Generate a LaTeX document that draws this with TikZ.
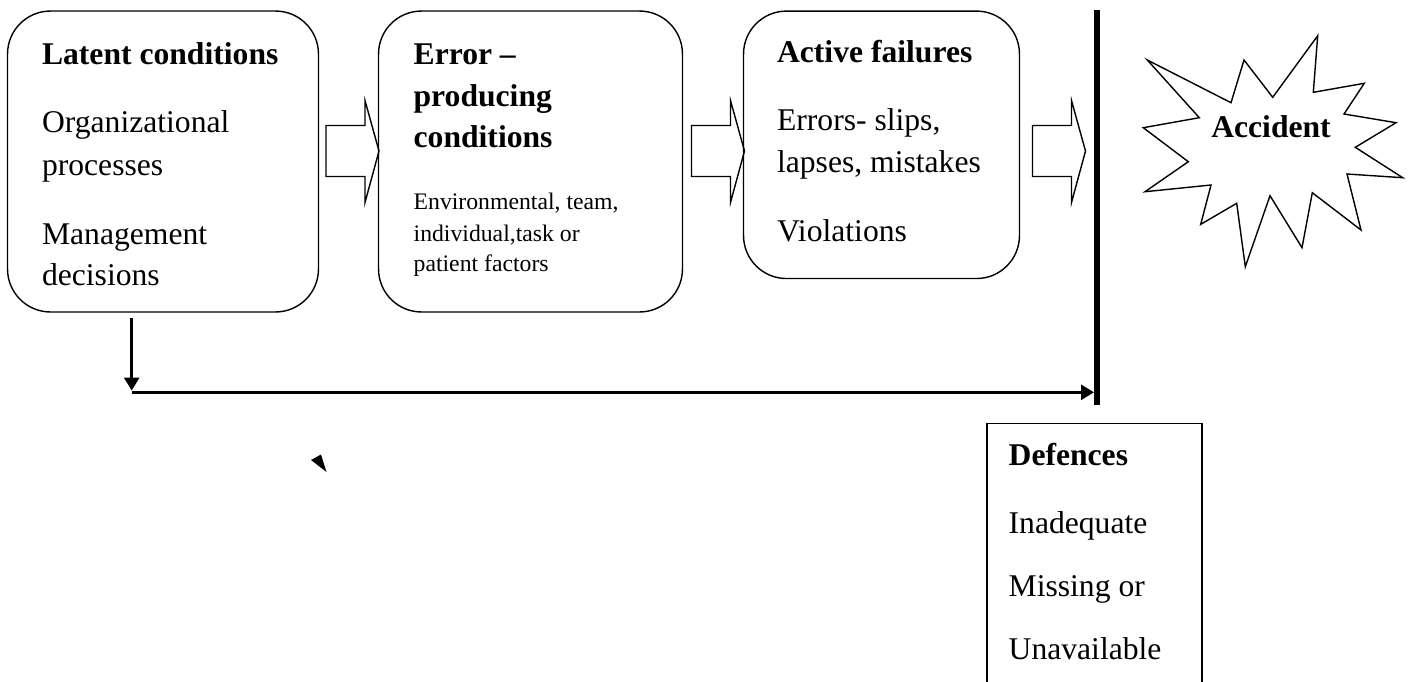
\documentclass[tikz,border=0pt]{standalone}
\usepackage{fontspec}
\setmainfont{Liberation Serif}
\usetikzlibrary{arrows.meta,positioning,calc}
\definecolor{ink}{RGB}{0,0,0}
\tikzset{
  stage/.style={draw=ink,line width=0.8pt,rounded corners=0.86cm,inner sep=0pt},
  head/.style={anchor=base west,inner sep=0pt,font=\fontsize{18}{22}\selectfont\bfseries},
  item/.style={anchor=base west,inner sep=0pt,font=\fontsize{18}{22}\selectfont},
  note/.style={anchor=base west,inner sep=0pt,font=\fontsize{13.5}{16}\selectfont},
  blockarr/.style={draw=ink,line width=0.8pt,line join=miter},
  arr/.style={-{Triangle[length=0.26cm,width=0.3cm]},line width=1.7pt},
}

\begin{document}
\begin{tikzpicture}[x=0.02cm,y=-0.02cm]
\useasboundingbox (0,0) rectangle (1409,681);

% the three stages
\node[stage,minimum width=6.22cm,minimum height=6.02cm] (latent) at (163,161.5) {};
\node[stage,minimum width=6.08cm,minimum height=6.02cm] (epc) at (530.5,161.5) {};
\node[stage,minimum width=5.52cm,minimum height=5.35cm] (active) at (881.5,144.8) {};

\node[head] (lat-h) at (41.7,64.3) {Latent conditions};
\node[item] (lat-a) at (41.7,132.7) {Organizational};
\node[item] (lat-b) at (41.7,175) {processes};
\node[item] (lat-c) at (41.7,244) {Management};
\node[item] (lat-d) at (41.7,285) {decisions};

\node[head] (epc-h1) at (413.3,64.3) {Error --};
\node[head] (epc-h2) at (413.3,106) {producing};
\node[head] (epc-h3) at (413.3,147.3) {conditions};
\node[note] (epc-a) at (413.3,209.5) {Environmental, team,};
\node[note] (epc-b) at (413.3,241.5) {individual,task or};
\node[note] (epc-c) at (413.3,271.7) {patient factors};

\node[head] (act-h) at (776.7,62.7) {Active failures};
\node[item] (act-a) at (776.7,130.7) {Errors- slips,};
\node[item] (act-b) at (776.7,172.7) {lapses, mistakes};
\node[item] (act-c) at (776.7,241.7) {Violations};

% block arrows between stages
\foreach \x in {326,691.5,1032.5}
  \draw[blockarr] (\x,125.5) -- ++(39,0) -- ++(0,-25) -- ++(14,50.5)
    -- ++(-14,51.5) -- ++(0,-26) -- ++(-39,0) -- cycle;

% defence barrier
\coordinate (bartop) at (1097,10);
\coordinate (barbot) at (1097,405);
\draw[line width=0.12cm] (bartop) -- (barbot);

% accident
\draw[line width=0.8pt,line join=miter]
  (1147.3,60) -- (1231,102.7) -- (1244,60) -- (1272.7,97.3) -- (1317.7,35.7)
  -- (1313.3,92.3) -- (1364.3,83.3) -- (1344,114) -- (1396,122.7) -- (1355.3,147.3)
  -- (1402.7,177.7) -- (1347,174) -- (1361,230) -- (1312.3,192.7) -- (1302,247.7)
  -- (1270,195.7) -- (1245.3,266.7) -- (1236.7,203.3) -- (1200.7,224.3) -- (1211,185)
  -- (1145,191.7) -- (1188.3,161.7) -- (1143.3,127.7) -- (1199.3,117.7) -- cycle;
\node[head,anchor=base] (acc) at (1271,137.3) {Accident};

% latent path to the barrier
\coordinate (bend) at (131.7,392.3);
\draw[arr,shorten <=0.1cm] (latent.south -| bend) -- ([yshift=1pt]bend);
\draw[arr,shorten >=0.06cm] (bend) -- (bend -| barbot);
\fill (311,460) -- (321,454.5) -- (326.5,472) -- cycle;

% defences
\coordinate (def) at (987,423.5);
\draw[line width=0.8pt] (987,690) -- (def) -- (1202,423.5) -- (1202,690);
\node[head] (def-h) at (1008.3,465) {Defences};
\node[item] (def-a) at (1008.3,533.3) {Inadequate};
\node[item] (def-b) at (1008.3,596.7) {Missing or};
\node[item] (def-c) at (1008.3,659.3) {Unavailable};
\end{tikzpicture}
\end{document}
